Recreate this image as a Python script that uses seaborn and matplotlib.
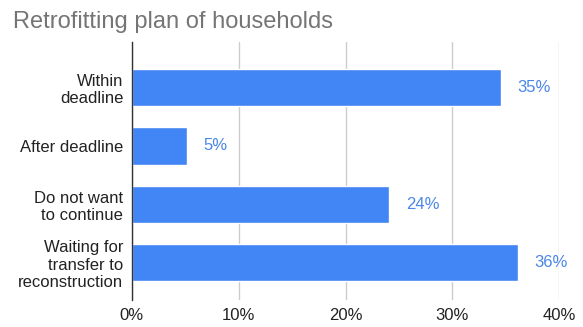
import matplotlib
matplotlib.use("Agg")
import matplotlib.pyplot as plt
import seaborn as sns
import pandas as pd
from matplotlib.ticker import FuncFormatter

# Data
categories = ["Within\ndeadline", "After deadline", "Do not want\nto continue",
              "Waiting for\ntransfer to\nreconstruction"]
values = [34.5, 5.15, 24.1, 36.1]
labels = ["35%", "5%", "24%", "36%"]
xticks = [0, 10, 20, 30, 40]

df = pd.DataFrame({"category": categories, "value": values})

sns.set_style("white")
plt.rcParams["font.family"] = ["Liberation Sans", "DejaVu Sans"]

fig = plt.figure(figsize=(5.83, 3.27), dpi=100)
ax = fig.add_axes([131.7 / 583, 27 / 327, (559.3 - 131.7) / 583, 258 / 327])

sns.barplot(data=df, x="value", y="category", color="#4285F4", saturation=1,
            width=0.64, ax=ax, zorder=3)

for i, (v, lab) in enumerate(zip(values, labels)):
    ax.text(v + 1.6, i, lab, va="center", ha="left", color="#4A86E8", fontsize=12)

ax.set_xlim(0, 40)
ax.set_ylim(3.64, -0.78)
ax.set_xticks(xticks)
ax.xaxis.set_major_formatter(FuncFormatter(lambda x, _: f"{x:.0f}%"))
ax.grid(axis="x", color="#CCCCCC", linewidth=1, zorder=0)
ax.tick_params(axis="both", length=0, labelsize=12, labelcolor="#222222")
ax.tick_params(axis="x", pad=6)
ax.tick_params(axis="y", pad=6)
ax.set_xlabel("")
ax.set_ylabel("")
for s in ["top", "right", "bottom"]:
    ax.spines[s].set_visible(False)
ax.spines["left"].set_color("#333333")
ax.spines["left"].set_linewidth(1)
ax.spines["left"].set_zorder(4)

fig.text(13 / 583, 1 - 22 / 327, "Retrofitting plan of households", fontsize=17,
         color="#757575", va="center", ha="left")

plt.savefig("out.png", dpi=100)
